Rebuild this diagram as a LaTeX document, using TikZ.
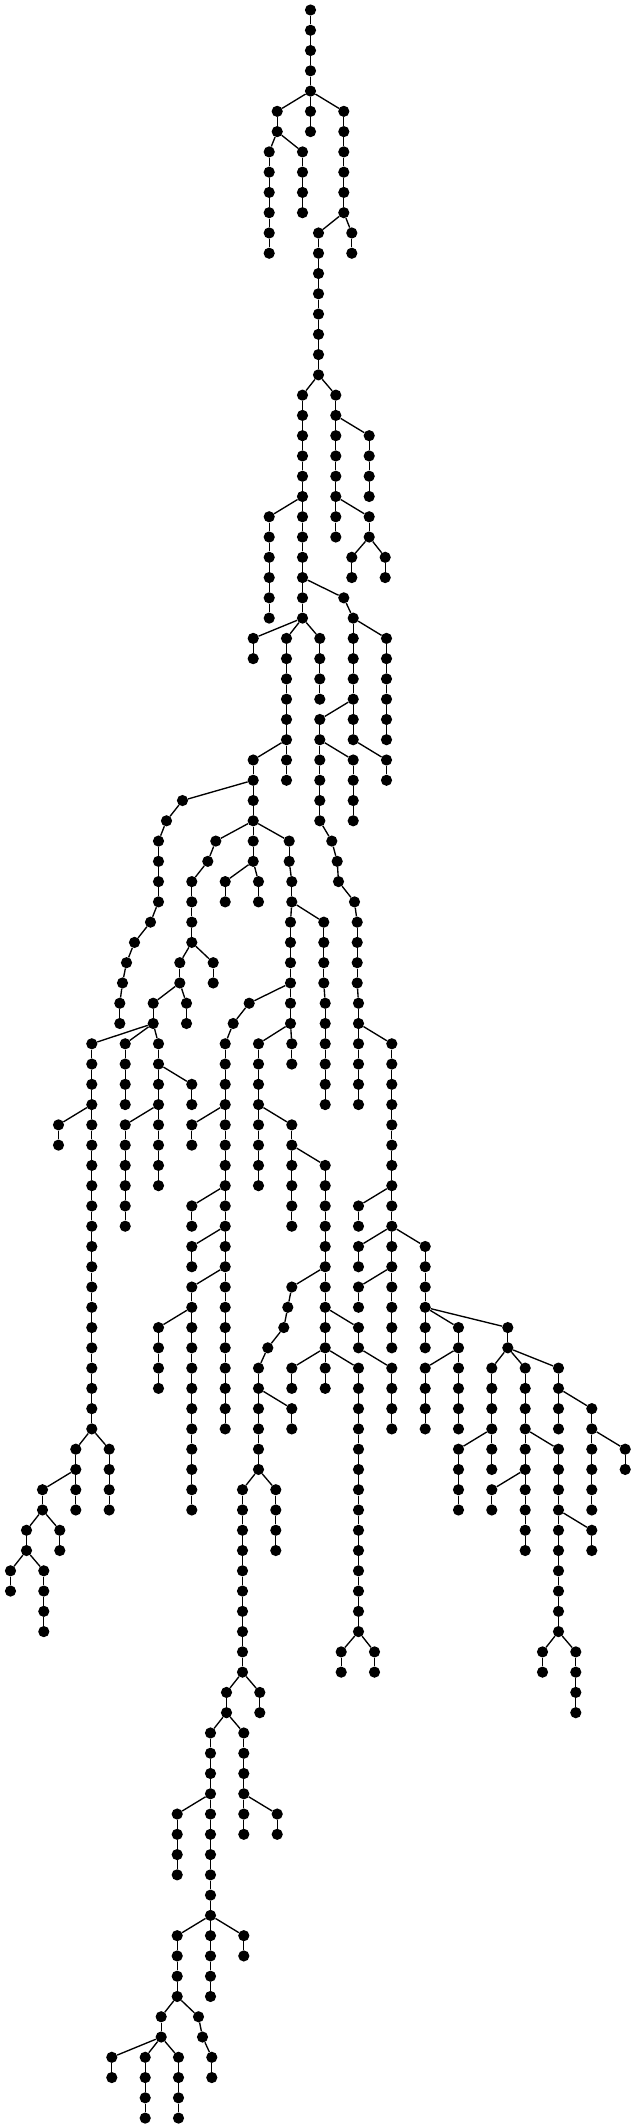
\documentclass[tikz,border=0pt]{standalone}
\tikzset{
  vtx/.style={circle,fill=black,draw=none,inner sep=0pt,minimum size=11.2pt},
  lnk/.style={draw=black,line width=1.35pt}
}
\newcommand{\treebranch}[5]{%
  \foreach \lv in {#3,...,#4} {
    \node[vtx] (#1-\lv) at ({#2+0.5},{10+20.27*\lv}) {};
    \ifnum\lv>#3\relax
      \pgfmathtruncatemacro{\prevlv}{\lv-1}
      \draw[lnk] (#1-\prevlv) -- (#1-\lv);
    \fi
  }
  \draw[lnk] (#5) -- (#1-#3);
}
\begin{document}
\begin{tikzpicture}[x=1pt,y=-1pt]
\useasboundingbox (0,0) rectangle (635,2128);
\foreach \lv in {0,...,6} {
  \node[vtx] (a-\lv) at (310.5,{10+20.27*\lv}) {};
}
\foreach \lv/\nx in {0/1,1/2,2/3,3/4,4/5,5/6} { \draw[lnk] (a-\lv) -- (a-\nx); }
\treebranch{b}{276.7}{5}{6}{a-4}
\treebranch{c}{268.7}{7}{12}{b-6}
\treebranch{d}{302}{7}{10}{b-6}
\treebranch{e}{343.3}{5}{10}{a-4}
\treebranch{f}{318}{11}{18}{e-10}
\treebranch{g}{351.3}{11}{12}{e-10}
\treebranch{h}{302}{19}{30}{f-18}
\treebranch{i}{335.3}{19}{26}{f-18}
\treebranch{j}{368.7}{21}{24}{i-20}
\treebranch{k}{368.7}{25}{26}{i-24}
\treebranch{l}{351.3}{27}{28}{k-26}
\treebranch{m}{384.7}{27}{28}{k-26}
\treebranch{n}{268.7}{25}{30}{h-24}
\treebranch{o}{343.3}{29}{29}{h-28}
\treebranch{p}{352.7}{30}{36}{o-29}
\treebranch{q}{386}{31}{36}{p-30}
\treebranch{r}{252.7}{31}{32}{h-30}
\treebranch{s}{286}{31}{38}{h-30}
\treebranch{t}{319.3}{31}{34}{h-30}
\treebranch{u}{319.3}{35}{40}{p-34}
\treebranch{v}{352.7}{37}{40}{u-36}
\treebranch{w}{386}{37}{38}{p-36}
\treebranch{ua}{331.3}{41}{41}{u-40}
\treebranch{ub}{336.7}{42}{42}{ua-41}
\treebranch{uc}{338}{43}{43}{ub-42}
\treebranch{ud}{354}{44}{44}{uc-43}
\treebranch{ue}{356.7}{45}{48}{ud-44}
\treebranch{uf}{358}{49}{54}{ue-48}
\treebranch{ug}{391.3}{51}{66}{uf-50}
\treebranch{uh}{358}{59}{60}{ug-58}
\treebranch{ui}{358}{61}{62}{ug-60}
\treebranch{uj}{424.7}{61}{66}{ug-60}
\treebranch{uk}{358}{63}{64}{ug-62}
\treebranch{um}{458}{65}{70}{uj-64}
\treebranch{un}{424.7}{67}{70}{um-66}
\treebranch{uo}{507.3}{65}{66}{uj-64}
\treebranch{up}{491.3}{67}{72}{uo-66}
\treebranch{uq}{458}{71}{74}{up-70}
\treebranch{ur}{524.7}{67}{76}{uo-66}
\treebranch{us}{491.3}{73}{74}{ur-72}
\treebranch{ut}{558}{71}{80}{ur-70}
\treebranch{uu}{591.3}{75}{76}{ut-74}
\treebranch{uv}{542}{81}{82}{ut-80}
\treebranch{uw}{575.3}{81}{84}{ut-80}
\treebranch{ux}{558}{67}{70}{uo-66}
\treebranch{uy}{591.3}{69}{74}{ux-68}
\treebranch{uz}{624.7}{71}{72}{uy-70}
\treebranch{aa}{252.7}{37}{42}{s-36}
\treebranch{ab}{224.7}{43}{44}{aa-42}
\treebranch{ac}{258}{43}{44}{aa-42}
\treebranch{ad}{182}{39}{39}{aa-38}
\treebranch{ae}{166}{40}{40}{ad-39}
\treebranch{af}{158}{41}{44}{ae-40}
\treebranch{ag}{150}{45}{45}{af-44}
\treebranch{ah}{134}{46}{46}{ag-45}
\treebranch{ai}{126}{47}{47}{ah-46}
\treebranch{aj}{122}{48}{48}{ai-47}
\treebranch{ak}{119.3}{49}{50}{aj-48}
\treebranch{al}{215.3}{41}{41}{aa-40}
\treebranch{am}{207.3}{42}{42}{al-41}
\treebranch{an}{191.3}{43}{46}{am-42}
\treebranch{ao}{179.3}{47}{48}{an-46}
\treebranch{ap}{212.7}{47}{48}{an-46}
\treebranch{aq}{152.7}{49}{50}{ao-48}
\treebranch{ar}{186}{49}{50}{ao-48}
\treebranch{as}{91.3}{51}{70}{aq-50}
\treebranch{at}{58}{55}{56}{as-54}
\treebranch{au}{75.3}{71}{74}{as-70}
\treebranch{av}{108.7}{71}{74}{as-70}
\treebranch{aw}{42}{73}{74}{au-72}
\treebranch{ax}{26}{75}{76}{aw-74}
\treebranch{ay}{59.3}{75}{76}{aw-74}
\treebranch{az}{10}{77}{78}{ax-76}
\treebranch{ba}{43.3}{77}{80}{ax-76}
\treebranch{bb}{124.7}{51}{54}{aq-50}
\treebranch{bc}{158}{51}{58}{aq-50}
\treebranch{bd}{191.3}{53}{54}{bc-52}
\treebranch{be}{124.7}{55}{60}{bc-54}
\treebranch{ca}{288.7}{41}{42}{aa-40}
\treebranch{cb}{291.3}{43}{44}{ca-42}
\treebranch{cc}{323.3}{45}{48}{cb-44}
\treebranch{cd}{324.7}{49}{54}{cc-48}
\treebranch{ce}{290}{45}{50}{cb-44}
\treebranch{cf}{248.7}{49}{49}{ce-48}
\treebranch{cg}{232.7}{50}{50}{cf-49}
\treebranch{ch}{224.7}{51}{70}{cg-50}
\treebranch{ci}{191.3}{55}{56}{ch-54}
\treebranch{cj}{191.3}{59}{60}{ch-58}
\treebranch{ck}{191.3}{61}{62}{ch-60}
\treebranch{cl}{191.3}{63}{74}{ch-62}
\treebranch{cm}{158}{65}{68}{cl-64}
\treebranch{cn}{258}{51}{58}{ce-50}
\treebranch{co}{291.3}{51}{52}{ce-50}
\treebranch{cp}{291.3}{55}{60}{cn-54}
\treebranch{cq}{324.7}{57}{68}{cp-56}
\treebranch{cr}{291.3}{63}{63}{cq-62}
\treebranch{cs}{287.3}{64}{64}{cr-63}
\treebranch{ct}{283.3}{65}{65}{cs-64}
\treebranch{cu}{267.3}{66}{66}{ct-65}
\treebranch{cv}{258}{67}{72}{cu-66}
\treebranch{cw}{291.3}{69}{70}{cv-68}
\treebranch{cx}{242}{73}{82}{cv-72}
\treebranch{cy}{275.3}{73}{76}{cv-72}
\treebranch{cz}{226}{83}{84}{cx-82}
\treebranch{da}{259.3}{83}{84}{cx-82}
\treebranch{dc}{358}{65}{66}{cq-64}
\treebranch{dd}{391.3}{67}{70}{dc-66}
\treebranch{de}{291.3}{67}{68}{cq-66}
\treebranch{df}{358}{67}{80}{cq-66}
\treebranch{dg}{340.7}{81}{82}{df-80}
\treebranch{dh}{374}{81}{82}{df-80}
\treebranch{db}{210}{85}{94}{cz-84}
\treebranch{dj}{243.3}{85}{88}{cz-84}
\treebranch{dk}{243.3}{89}{90}{dj-88}
\treebranch{dl}{276.7}{89}{90}{dj-88}
\treebranch{dm}{176.7}{89}{92}{db-88}
\treebranch{dn}{176.7}{95}{98}{db-94}
\treebranch{do}{210}{95}{98}{db-94}
\treebranch{dp}{243.3}{95}{96}{db-94}
\treebranch{dq}{160.7}{99}{100}{dn-98}
\treebranch{dr}{198}{99}{99}{dn-98}
\treebranch{ds}{202}{100}{100}{dr-99}
\treebranch{dt}{211.3}{101}{102}{ds-100}
\treebranch{du}{111.3}{101}{102}{dq-100}
\treebranch{dv}{144.7}{101}{104}{dq-100}
\treebranch{dw}{178}{101}{104}{dq-100}
\end{tikzpicture}
\end{document}
